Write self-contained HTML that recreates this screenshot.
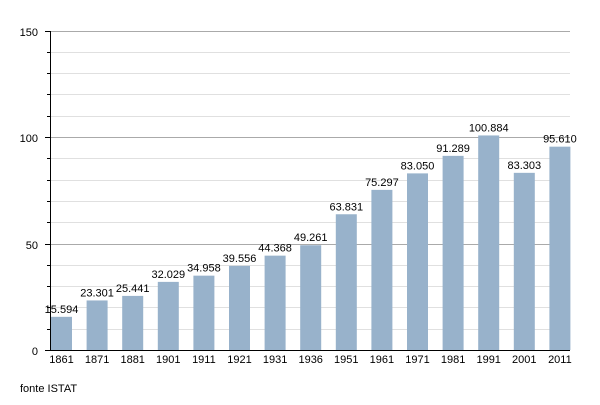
<!DOCTYPE html><html><head><meta charset="utf-8"><style>body{margin:0;background:#fff}</style></head><body>
<svg width="600" height="400" xmlns="http://www.w3.org/2000/svg" font-family="Liberation Sans, sans-serif" font-size="11">
<rect width="600" height="400" fill="#fff"/>
<g stroke="#e0e0e0" stroke-width="1">
<line x1="50" x2="570" y1="52.5" y2="52.5"/><line x1="50" x2="570" y1="73.5" y2="73.5"/><line x1="50" x2="570" y1="94.5" y2="94.5"/><line x1="50" x2="570" y1="116.5" y2="116.5"/>
<line x1="50" x2="570" y1="158.5" y2="158.5"/><line x1="50" x2="570" y1="180.5" y2="180.5"/><line x1="50" x2="570" y1="201.5" y2="201.5"/><line x1="50" x2="570" y1="222.5" y2="222.5"/>
<line x1="50" x2="570" y1="265.5" y2="265.5"/><line x1="50" x2="570" y1="286.5" y2="286.5"/><line x1="50" x2="570" y1="307.5" y2="307.5"/><line x1="50" x2="570" y1="329.5" y2="329.5"/>
</g>
<g stroke="#aaa"><line x1="50" x2="570" y1="31.5" y2="31.5"/><line x1="50" x2="570" y1="137.5" y2="137.5"/><line x1="50" x2="570" y1="244.5" y2="244.5"/></g>
<g fill="#98b2cb" id="bars"></g>
<g id="lbl" text-anchor="middle" fill="#000"></g>
<g stroke="#000"><line x1="50.5" x2="50.5" y1="31" y2="350"/><line x1="45" x2="570" y1="350.5" y2="350.5"/>
<line x1="45" x2="50" y1="31.5" y2="31.5"/><line x1="45" x2="50" y1="137.5" y2="137.5"/><line x1="45" x2="50" y1="244.5" y2="244.5"/>
<line x1="47" x2="50" y1="52.5" y2="52.5"/><line x1="47" x2="50" y1="73.5" y2="73.5"/><line x1="47" x2="50" y1="94.5" y2="94.5"/><line x1="47" x2="50" y1="116.5" y2="116.5"/>
<line x1="47" x2="50" y1="158.5" y2="158.5"/><line x1="47" x2="50" y1="180.5" y2="180.5"/><line x1="47" x2="50" y1="201.5" y2="201.5"/><line x1="47" x2="50" y1="222.5" y2="222.5"/>
<line x1="47" x2="50" y1="265.5" y2="265.5"/><line x1="47" x2="50" y1="286.5" y2="286.5"/><line x1="47" x2="50" y1="307.5" y2="307.5"/><line x1="47" x2="50" y1="329.5" y2="329.5"/></g>
<g text-anchor="end"><text x="38" y="36">150</text><text x="38" y="142">100</text><text x="38" y="249">50</text><text x="38" y="355">0</text></g>
<text x="20" y="392">fonte ISTAT</text>
<script>
var d=[["1861",15.594],["1871",23.301],["1881",25.441],["1901",32.029],["1911",34.958],["1921",39.556],["1931",44.368],["1936",49.261],["1951",63.831],["1961",75.297],["1971",83.050],["1981",91.289],["1991",100.884],["2001",83.303],["2011",95.610]];
var b=document.getElementById('bars'),l=document.getElementById('lbl'),ns='http://www.w3.org/2000/svg';
d.forEach(function(e,i){var x=51+i*35.6,h=e[1]*319/150,y=350-h;
var r=document.createElementNS(ns,'rect');r.setAttribute('x',x);r.setAttribute('y',y);r.setAttribute('width',21);r.setAttribute('height',h);b.appendChild(r);
var t=document.createElementNS(ns,'text');t.setAttribute('x',x+10.5);t.setAttribute('y',y-4);t.textContent=e[1].toFixed(3);l.appendChild(t);
var t2=document.createElementNS(ns,'text');t2.setAttribute('x',x+10.5);t2.setAttribute('y',363);t2.textContent=e[0];l.appendChild(t2);});
</script>
</svg></body></html>
